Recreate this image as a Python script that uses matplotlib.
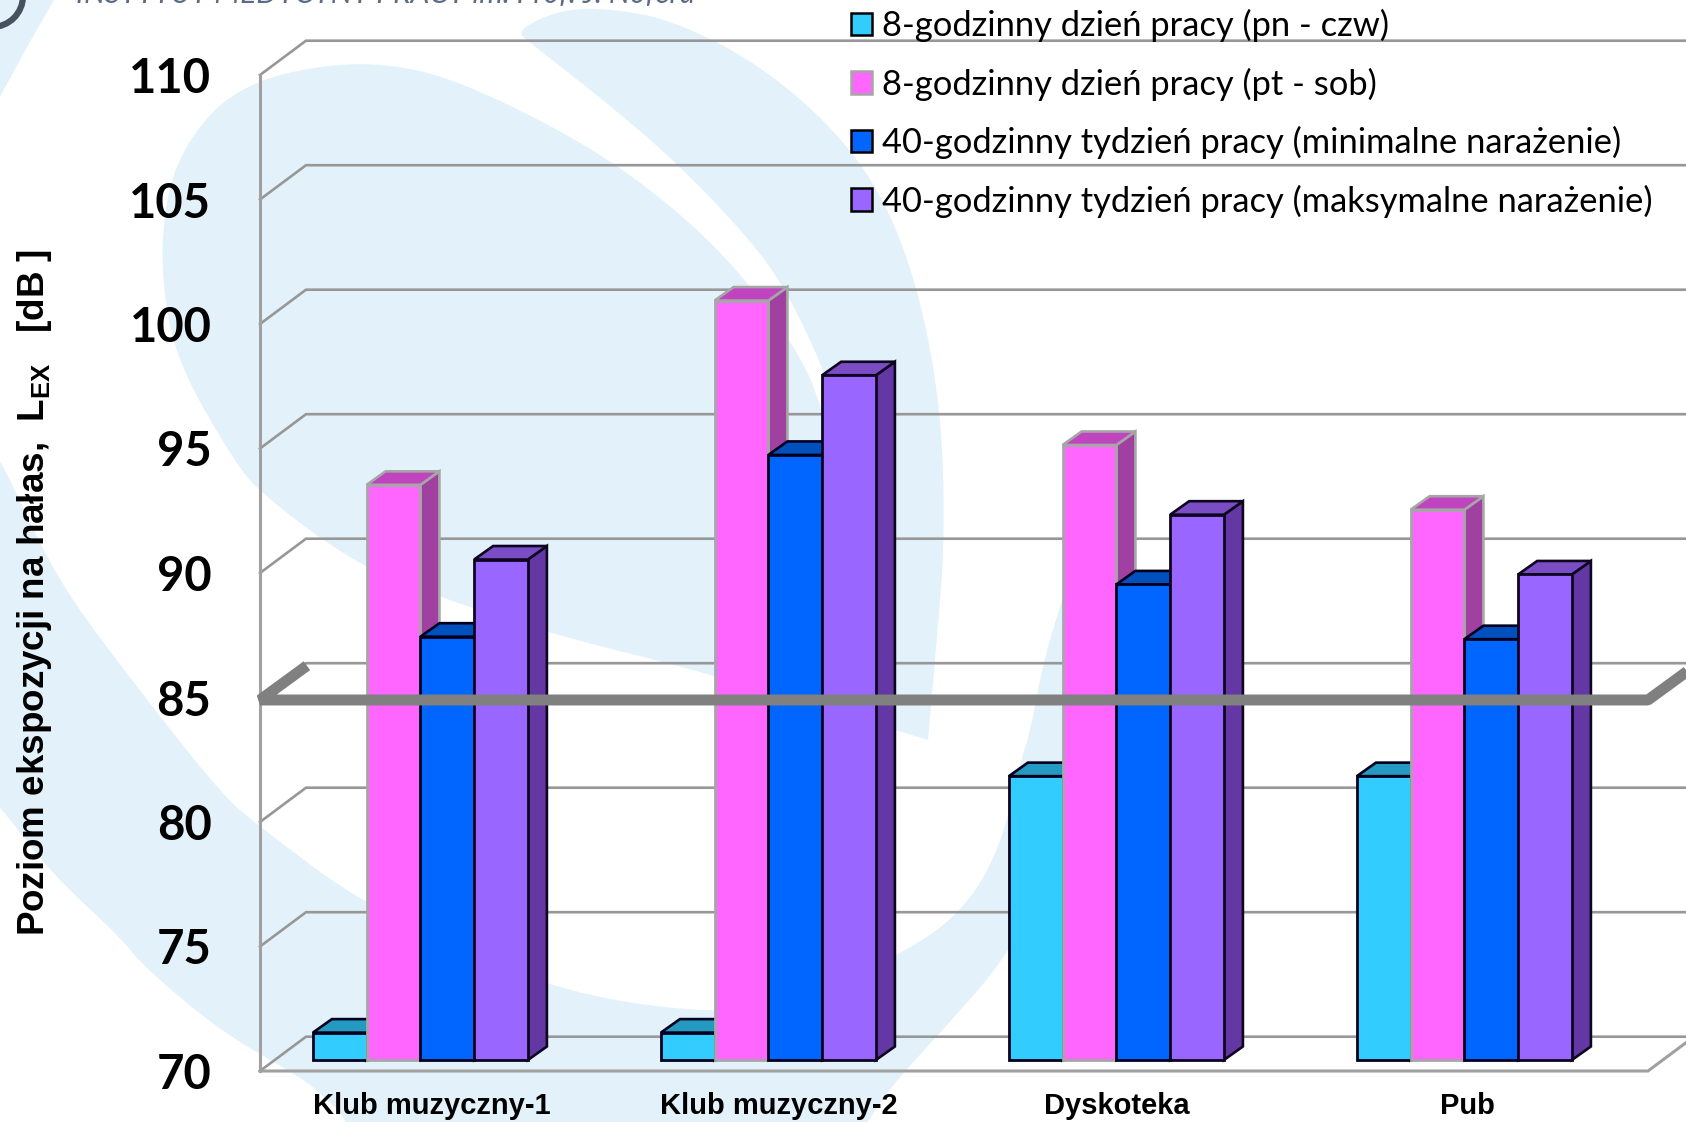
import numpy as np
import matplotlib
matplotlib.use("Agg")
import matplotlib.pyplot as plt
from matplotlib.patches import Patch, Polygon, Arc

# Noise exposure levels per venue, dB
venues = ["Klub muzyczny-1", "Klub muzyczny-2", "Dyskoteka", "Pub"]
venue_label_pos = [-0.006, 0.992, 1.962, 2.97]
workday_mon_thu = [71.1, 71.1, 81.4, 81.4]
workday_fri_sat = [93.1, 100.5, 94.7, 92.1]
week_min = [87.0, 94.3, 89.1, 86.9]
week_max = [90.1, 97.5, 91.9, 89.5]
y_ticks = [70, 75, 80, 85, 90, 95, 100, 105, 110]
limit_db = 84.9

series_names = [
    "8-godzinny dzień pracy (pn - czw)",
    "8-godzinny dzień pracy (pt - sob)",
    "40-godzinny tydzień pracy (minimalne narażenie)",
    "40-godzinny tydzień pracy (maksymalne narażenie)",
]
front_colors = ["#33CCFF", "#FF66FF", "#0066FF", "#9966FF"]
top_colors = ["#2499C2", "#C044C0", "#0050BE", "#7A4DC4"]
side_colors = ["#1E86AA", "#A040A0", "#0044A0", "#6438A4"]
edge_colors = ["#00001E", "#A6A6A6", "#00001E", "#0E0620"]

# Watermark shapes behind the chart, in pixels from the top left corner
swoosh_outline = [
    (518, 32), (540, 18), (574, 8), (620, 10), (670, 20), (746, 56), (823, 117), (880, 189),
    (918, 286), (941, 408), (945, 536), (937, 638), (928, 740), (928, 740), (928, 740),
    (708, 673), (547, 633), (440, 597), (357, 565), (261, 494), (232, 458), (175, 358),
    (161, 272), (165, 205), (179, 157), (214, 107), (261, 79), (320, 66), (375, 63),
    (440, 74), (536, 117), (631, 173), (727, 255), (803, 357), (825, 420), (825, 420),
    (825, 420), (830, 398), (823, 367), (784, 286), (746, 235), (677, 163), (612, 107),
    (528, 41),
]
band_outline = [
    (-40, 400), (0, 458), (33, 530), (67, 593), (120, 665), (220, 793), (260, 827), (367, 907),
    (548, 990), (714, 1015), (800, 1000), (896, 957), (960, 915), (1000, 850), (1020, 763),
    (1030, 733), (1043, 663), (1062, 600), (1075, 560), (1095, 600), (1075, 830), (1009, 955),
    (940, 1033), (894, 1083), (867, 1122), (840, 1170), (350, 1170), (350, 1122), (320, 1093),
    (300, 1077), (220, 1031), (143, 966), (120, 937), (67, 888), (33, 850), (0, 806), (-40, 770),
]
corner_outline = [(-60, -60), (60, -10), (54, 0), (28, 45), (0, 97), (-60, 200)]

WIDTH, HEIGHT = 1686, 1122
FLOOR_LEFT, FLOOR_RIGHT, FLOOR_Y, TOP_Y = 260, 1648, 1071, 75
CAT_STEP = 348.0
DB_STEP = (FLOOR_Y - TOP_Y) / 40.0

WALL_DX, WALL_DY = 46 / CAT_STEP, 34.3 / DB_STEP
BAR_DX, BAR_DY = 19 / CAT_STEP, 13.5 / DB_STEP
BAR_W = 53.75 / CAT_STEP
GROUP_LEFT = -0.348
BAR_RISE = 11 / DB_STEP
BLOB = "#E3F2FA"
GRID = "#979797"


def smooth(points, rounds=3):
    # Chaikin corner cutting so the outlines read as curves
    pts = np.array(points, dtype=float)
    for _ in range(rounds):
        nxt = np.roll(pts, -1, axis=0)
        pts = np.column_stack([0.75 * pts + 0.25 * nxt, 0.25 * pts + 0.75 * nxt]).reshape(-1, 2)
    return pts


fig = plt.figure(figsize=(WIDTH / 100, HEIGHT / 100), dpi=100, facecolor="white")

# Background layer in pixel coordinates
bg = fig.add_axes([0, 0, 1, 1], zorder=0)
bg.set_xlim(0, WIDTH)
bg.set_ylim(HEIGHT, 0)
bg.axis("off")
for outline in (swoosh_outline, band_outline, corner_outline):
    bg.add_patch(Polygon(smooth(outline), closed=True, facecolor=BLOB, edgecolor="none"))
bg.add_patch(Arc((-8, -4), 62, 62, theta1=0, theta2=90, color="#46525E", lw=4.5))
bg.text(76, 3, "INSTYTUT MEDYCYNY PRACY im. Prof. J. Nofera", fontsize=21.5, color="#5A6B85",
        style="italic", family="Lato", va="baseline", ha="left")

# Chart layer: x in category units, y in dB
ax = fig.add_axes([FLOOR_LEFT / WIDTH, 1 - FLOOR_Y / HEIGHT,
                   (FLOOR_RIGHT - FLOOR_LEFT) / WIDTH, (FLOOR_Y - TOP_Y) / HEIGHT], zorder=1)
ax.patch.set_alpha(0)
x_min, x_max = -0.5, -0.5 + (FLOOR_RIGHT - FLOOR_LEFT) / CAT_STEP
ax.set_xlim(x_min, x_max)
ax.set_ylim(70, 110)
for spine in ax.spines.values():
    spine.set_visible(False)

# Walls and gridlines
for tick in y_ticks:
    ax.plot([x_min, x_min + WALL_DX, x_max + WALL_DX], [tick, tick + WALL_DY, tick + WALL_DY],
            color=GRID, lw=1.9, clip_on=False, zorder=1, solid_joinstyle="miter")
ax.plot([x_min, x_min], [70, 110], color="#A0A0A0", lw=2.2, clip_on=False, zorder=1)
ax.plot([x_min, x_max, x_max + WALL_DX], [70, 70, 70 + WALL_DY], color="#A0A0A0", lw=2.2,
        clip_on=False, zorder=1, solid_joinstyle="miter")

# Bars with side and top faces
all_series = [workday_mon_thu, workday_fri_sat, week_min, week_max]
for s, values in enumerate(all_series):
    for c, val in enumerate(values):
        left = c + GROUP_LEFT + s * BAR_W
        right = left + BAR_W
        base = 70 + BAR_RISE
        top = val + BAR_RISE
        z = 3 + s + c * 10
        ax.fill([right, right + BAR_DX, right + BAR_DX, right],
                [base, base + BAR_DY, top + BAR_DY, top],
                facecolor=side_colors[s], edgecolor=edge_colors[s], lw=1.9, zorder=z,
                clip_on=False, joinstyle="miter")
        ax.fill([left, left + BAR_DX, right + BAR_DX, right],
                [top, top + BAR_DY, top + BAR_DY, top],
                facecolor=top_colors[s], edgecolor=edge_colors[s], lw=1.9, zorder=z,
                clip_on=False, joinstyle="miter")
        ax.bar(left, val - 70, bottom=base, width=BAR_W, align="edge",
               facecolor=front_colors[s], edgecolor=edge_colors[s], lw=2.0, zorder=z + 0.5,
               clip_on=False)

# 85 dB exposure limit
ax.plot([x_min + WALL_DX * 1.02, x_min, x_max, x_max + WALL_DX * 1.02],
        [limit_db + WALL_DY, limit_db, limit_db, limit_db + WALL_DY],
        color="#808080", lw=7.9, clip_on=False, zorder=100, solid_joinstyle="bevel",
        solid_capstyle="butt")

ax.set_yticks(y_ticks)
ax.set_yticklabels([str(t) for t in y_ticks], fontsize=34, fontweight="bold", family="Lato")
ax.tick_params(axis="y", length=0, pad=35)
ax.set_xticks(venue_label_pos)
ax.set_xticklabels(venues, fontsize=21, fontweight="bold", family="Liberation Sans")
ax.tick_params(axis="x", length=0, pad=15)

fig.text(35 / WIDTH, 1 - 592 / HEIGHT, "Poziom ekspozycji na hałas,  L$\\mathregular{_{EX}}$   [dB ]",
         rotation=90, fontsize=26.5, fontweight="bold", family="Liberation Sans",
         ha="center", va="center", zorder=5)

handles = [Patch(facecolor=front_colors[i], edgecolor="#A6A6A6" if i == 1 else "black", lw=1.8)
           for i in range(4)]
ax.legend(handles, series_names, loc="upper left", bbox_to_anchor=(851 / WIDTH, 1 - 9 / HEIGHT),
          bbox_transform=fig.transFigure, frameon=False, borderpad=0, borderaxespad=0,
          handlelength=0.62, handleheight=0.62, handletextpad=0.27, labelspacing=0.737,
          prop={"family": "Lato", "size": 24.8})

fig.savefig("out.png", dpi=100)
